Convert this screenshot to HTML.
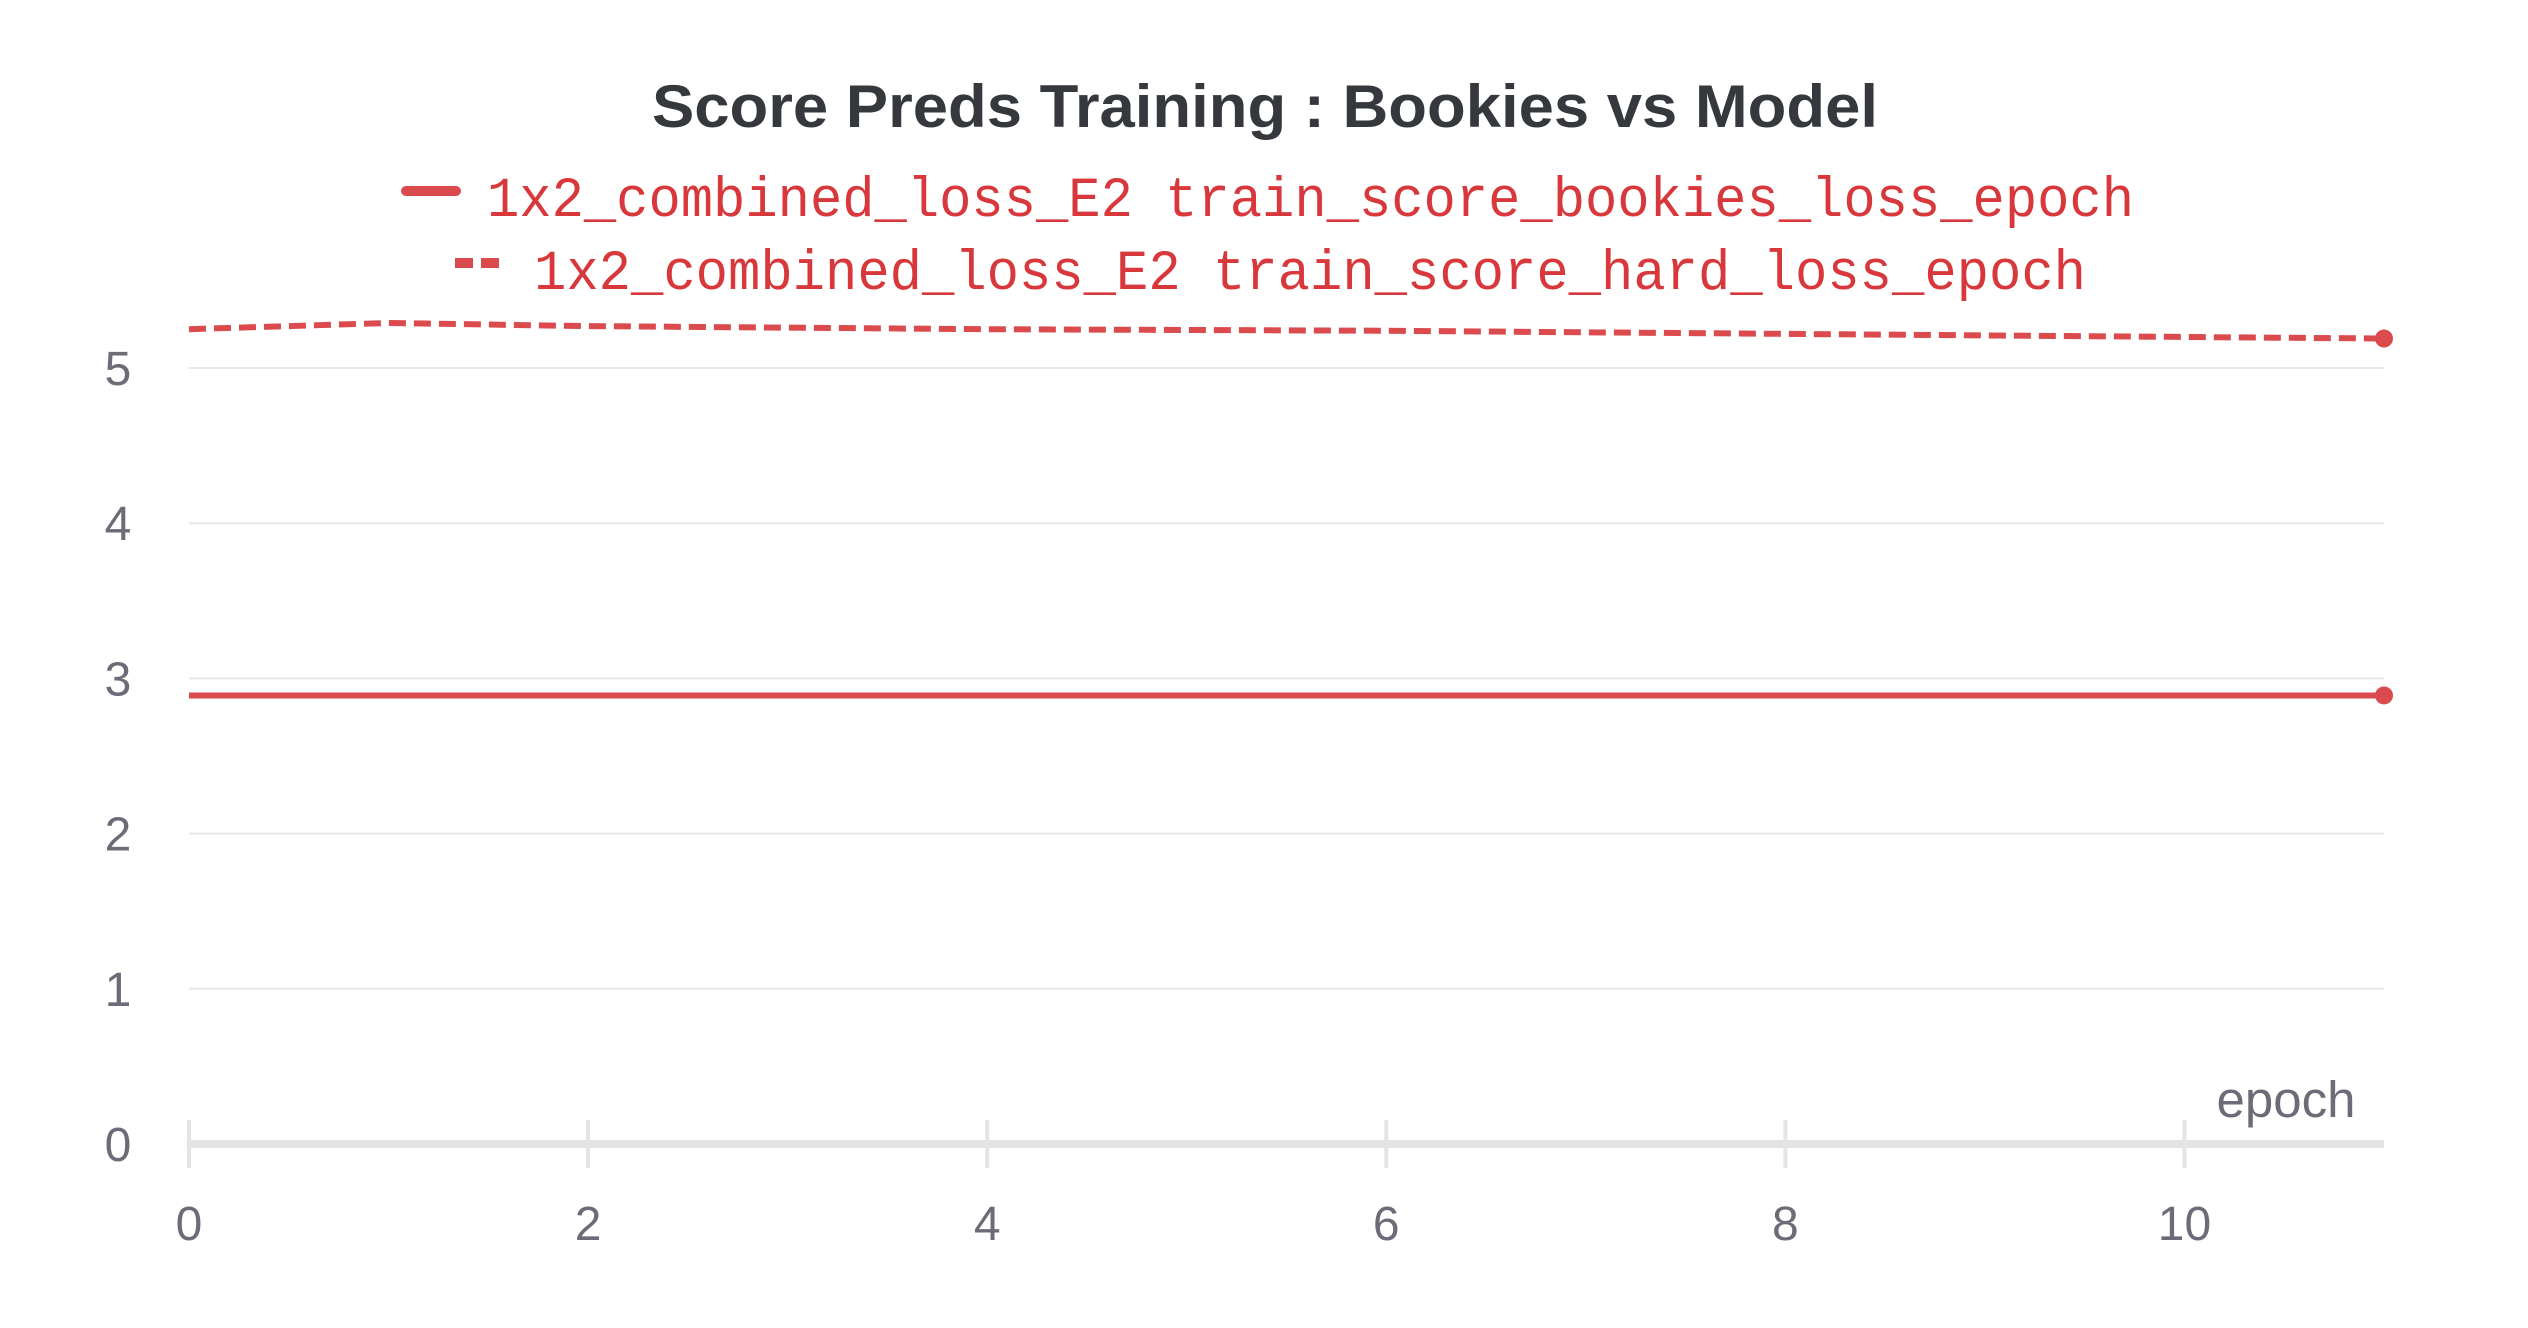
<!DOCTYPE html>
<html><head><meta charset="utf-8"><style>
html,body{margin:0;padding:0;background:#fff;width:2528px;height:1328px;overflow:hidden}
svg{display:block}
</style></head><body>
<svg id="chart" width="2528" height="1328">
<text x="1265" y="127" text-anchor="middle" font-family="Liberation Sans, sans-serif" font-weight="bold" font-size="60" fill="#35383c" textLength="1226" lengthAdjust="spacingAndGlyphs">Score Preds Training : Bookies vs Model</text>
<g>
<g>
<line x1="406" y1="191" x2="456" y2="191" stroke="#db4a4c" stroke-width="10" stroke-linecap="round"/>
<text x="487" y="216" font-family="Liberation Mono, monospace" font-size="57" fill="#d8383b" textLength="1647" lengthAdjust="spacingAndGlyphs">1x2_combined_loss_E2 train_score_bookies_loss_epoch</text>
</g>
<g>
<line x1="455" y1="263" x2="503" y2="263" stroke="#db4a4c" stroke-width="10" stroke-dasharray="18 8" stroke-linecap="butt"/>
<text x="534" y="289" font-family="Liberation Mono, monospace" font-size="57" fill="#d8383b" textLength="1552" lengthAdjust="spacingAndGlyphs">1x2_combined_loss_E2 train_score_hard_loss_epoch</text>
</g>
</g>
<g id="grid"></g>
<g id="yticks"></g>
<g id="xaxis"></g>
<g id="series"></g>
<text x="2286" y="1117" text-anchor="middle" font-family="Liberation Sans, sans-serif" font-size="51" fill="#6b6c77">epoch</text>
</svg>
<script>
const epochs = [0,1,2,3,4,5,6,7,8,9,10,11];
const bookiesLoss = [2.89,2.89,2.89,2.89,2.89,2.89,2.89,2.89,2.89,2.89,2.89,2.89];
const hardLoss = [5.25,5.29,5.27,5.26,5.25,5.245,5.24,5.23,5.22,5.21,5.20,5.19];
const yTicks = [0,1,2,3,4,5];
const xTicks = [0,2,4,6,8,10];

const NS='http://www.w3.org/2000/svg';
const X0=189,X1=2384,XMAX=11,Y0=1144,YU=155.2;
function xs(v){return X0+(X1-X0)*v/XMAX;}
function ys(v){return Y0-v*YU;}
function mk(tag,attrs,parent){const e=document.createElementNS(NS,tag);for(const k in attrs)e.setAttribute(k,attrs[k]);parent.appendChild(e);return e;}
const grid=document.getElementById('grid'),yt=document.getElementById('yticks'),xa=document.getElementById('xaxis'),ser=document.getElementById('series');
yTicks.forEach(v=>{
  if(v>0){const l=mk('line',{x1:X0,x2:X1,y1:ys(v),y2:ys(v),stroke:'#e6e6e8','stroke-width':2},grid);
  
  }
  const t=mk('text',{x:118,y:ys(v)+17,'text-anchor':'middle','font-family':'Liberation Sans, sans-serif','font-size':48,fill:'#6b6c77'},yt);
  t.textContent=v;
  
  
});
const ax=mk('line',{x1:X0,x2:X1,y1:Y0,y2:Y0,stroke:'#e4e4e6','stroke-width':8},xa);


xTicks.forEach(v=>{
  const tk=mk('line',{x1:xs(v),x2:xs(v),y1:Y0-24,y2:Y0+24,stroke:'#e4e4e6','stroke-width':4},xa);
  
  
  const t=mk('text',{x:xs(v),y:1240,'text-anchor':'middle','font-family':'Liberation Sans, sans-serif','font-size':48,fill:'#6b6c77'},xa);
  t.textContent=v;
  
  
});
function path(vals){return vals.map((v,i)=>(i?'L':'M')+xs(epochs[i])+','+ys(v)).join(' ');}
const p1=mk('path',{d:path(hardLoss),fill:'none',stroke:'#db4a4c','stroke-width':6,'stroke-dasharray':'17 8'},ser);


const p2=mk('path',{d:path(bookiesLoss),fill:'none',stroke:'#db4a4c','stroke-width':6},ser);


const n=epochs.length-1;
const d1=mk('circle',{cx:xs(epochs[n]),cy:ys(hardLoss[n]),r:9,fill:'#db4a4c'},ser);


const d2=mk('circle',{cx:xs(epochs[n]),cy:ys(bookiesLoss[n]),r:9,fill:'#db4a4c'},ser);


</script>
</body></html>
